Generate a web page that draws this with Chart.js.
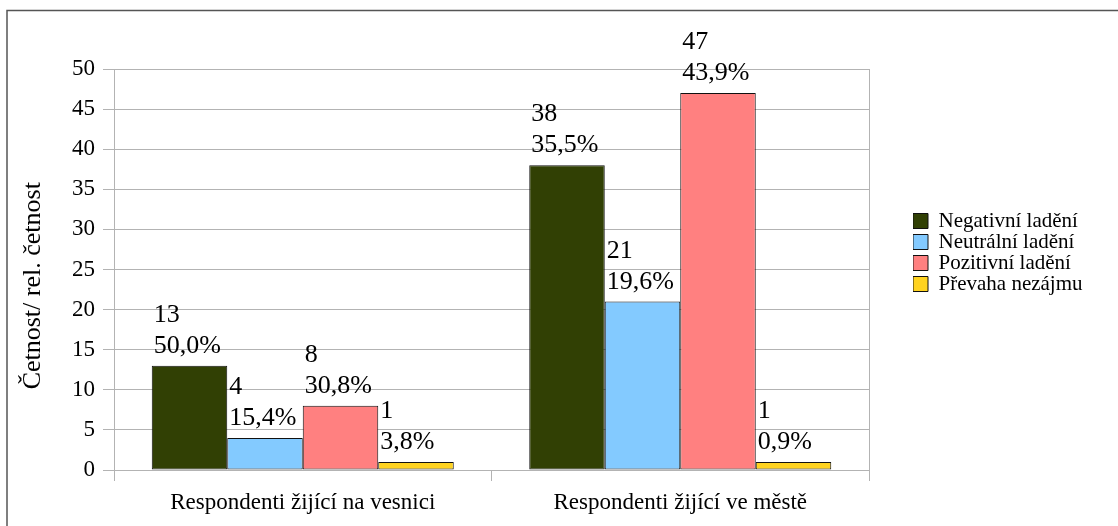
<!DOCTYPE html>
<html>
<head>
<meta charset="utf-8">
<script src="https://cdn.jsdelivr.net/npm/chart.js@4"></script>
<style>
  html, body { margin: 0; padding: 0; background: #fff; }
  #wrap { width: 1118px; height: 526px; position: relative; }
</style>
</head>
<body>
<div id="wrap"><canvas id="chart"></canvas></div>
<script>
// ---- data ----
const categories = ["Respondenti žijící na vesnici", "Respondenti žijící ve městě"];
const seriesNames = ["Negativní ladění", "Neutrální ladění", "Pozitivní ladění", "Převaha nezájmu"];

const negativni = [13, 38];
const neutralni = [4, 21];
const pozitivni = [8, 47];
const nezajem = [1, 1];

const negativniPct = ["50,0%", "35,5%"];
const neutralniPct = ["15,4%", "19,6%"];
const pozitivniPct = ["30,8%", "43,9%"];
const nezajemPct = ["3,8%", "0,9%"];

const yTicks = { min: 0, max: 50, step: 5 };

const FONT = "'Liberation Serif', 'Times New Roman', serif";
const GRID = "#b3b3b3";
const LEGEND_SIZE = 21;

// legend sits at a fixed x (913); work out the right padding from its text width
const LEGEND_LEFT = 913;
const PLOT_RIGHT = 869;
const mctx = document.createElement("canvas").getContext("2d");
mctx.font = LEGEND_SIZE + "px " + FONT;
const legendText = Math.max(...seriesNames.map(n => mctx.measureText(n).width));
const legendWidth = 15 + LEGEND_SIZE / 2 + legendText + 10;
const padRight = Math.max(0, 1118 - LEGEND_LEFT - legendWidth);

function ds(label, data, pct, color) {
  return {
    label,
    data,
    pct,
    backgroundColor: color,
    borderColor: "#111",
    borderWidth: 1,
    borderSkipped: false,
    barPercentage: 1,
    categoryPercentage: 0.8
  };
}

// value + percentage above each bar, left aligned on the bar
const barLabels = {
  id: "barLabels",
  afterDatasetsDraw(chart) {
    const ctx = chart.ctx;
    ctx.save();
    ctx.font = "26px " + FONT;
    ctx.fillStyle = "#000";
    ctx.textAlign = "left";
    ctx.textBaseline = "alphabetic";
    chart.data.datasets.forEach((d, i) => {
      chart.getDatasetMeta(i).data.forEach((bar, j) => {
        const left = bar.x - bar.width / 2 + 2;
        const base = bar.y - 13;
        ctx.fillText(String(d.data[j]), left, base - 31);
        ctx.fillText(d.pct[j], left, base);
      });
    });
    ctx.restore();
  }
};

// outer frame like the office export
const frame = {
  id: "frame",
  afterDraw(chart) {
    const ctx = chart.ctx;
    ctx.save();
    ctx.strokeStyle = "#555";
    ctx.lineWidth = 1.5;
    ctx.strokeRect(7, 10.5, 1130, 540);
    ctx.restore();
  }
};

new Chart(document.getElementById("chart").getContext("2d"), {
  type: "bar",
  data: {
    labels: categories,
    datasets: [
      ds(seriesNames[0], negativni, negativniPct, "#314004"),
      ds(seriesNames[1], neutralni, neutralniPct, "#83caff"),
      ds(seriesNames[2], pozitivni, pozitivniPct, "#ff8080"),
      ds(seriesNames[3], nezajem, nezajemPct, "#ffd320")
    ]
  },
  options: {
    responsive: true,
    maintainAspectRatio: false,
    animation: false,
    layout: { padding: { top: 69, left: 10, right: padRight, bottom: 12 } },
    plugins: {
      legend: {
        position: "right",
        align: "start",
        // empty title only pushes the entries down to mid height
        title: { display: true, text: "", font: { size: 12 }, padding: { top: 127.1, bottom: 0 } },
        labels: {
          color: "#000",
          boxWidth: 15,
          boxHeight: 15,
          padding: 0,
          font: { family: FONT, size: LEGEND_SIZE }
        }
      },
      tooltip: { enabled: false }
    },
    scales: {
      x: {
        grid: {
          offset: true,
          drawOnChartArea: false,
          tickLength: 11,
          tickColor: GRID
        },
        border: { color: GRID },
        ticks: { color: "#000", padding: 8, font: { family: FONT, size: 23 } },
        afterFit: (s) => { s.height = 44; }
      },
      y: {
        min: yTicks.min,
        max: yTicks.max,
        grid: { color: GRID, tickLength: 11 },
        border: { color: GRID },
        ticks: {
          stepSize: yTicks.step,
          color: "#000",
          padding: 8,
          font: { family: FONT, size: 23 }
        },
        title: {
          display: true,
          text: "Četnost/ rel. četnost     ",
          color: "#000",
          padding: { top: 8, bottom: 0 },
          font: { family: FONT, size: 26 }
        },
        afterFit: (s) => { s.width = 104; }
      },
      // spacer between plot and legend; also draws the right plot border
      yRight: {
        position: "right",
        grid: { drawOnChartArea: false, drawTicks: false },
        border: { color: GRID },
        ticks: { display: false },
        afterFit: (s) => { s.width = LEGEND_LEFT - PLOT_RIGHT; }
      }
    }
  },
  plugins: [barLabels, frame]
});
</script>
</body>
</html>
